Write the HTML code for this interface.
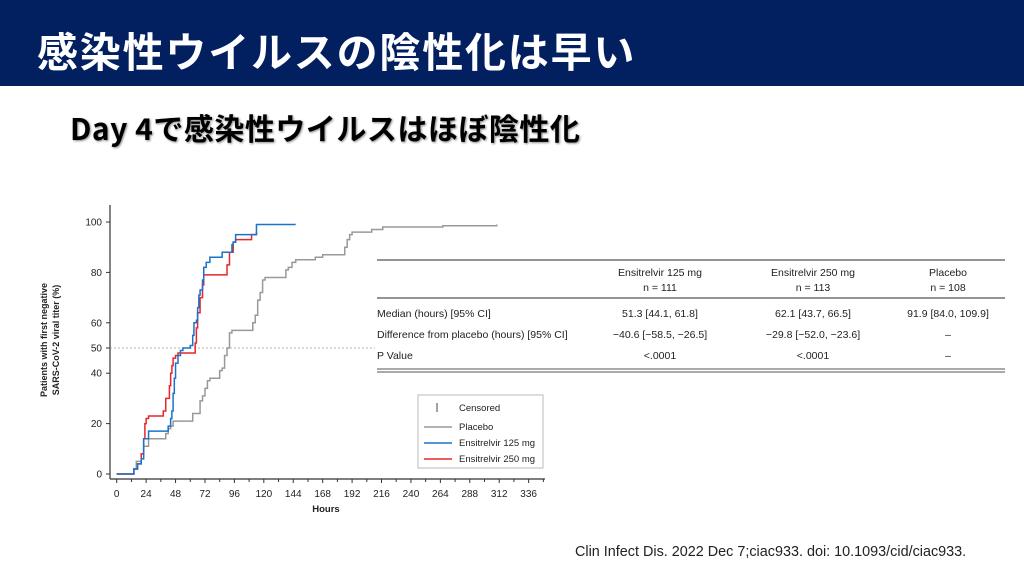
<!DOCTYPE html>
<html><head><meta charset="utf-8">
<style>
body{margin:0;width:1024px;height:576px;background:#fff;position:relative;overflow:hidden;font-family:"Liberation Sans","Noto Sans CJK JP",sans-serif}
.bar{position:absolute;left:0;top:0;width:1024px;height:86px;background:#022060}
.t{position:absolute;left:37px;top:19px;color:#fff;font-weight:bold;font-size:41px;letter-spacing:1.8px;white-space:nowrap;font-family:"Noto Sans CJK JP",sans-serif}
.s{position:absolute;left:70px;top:105px;color:#000;font-weight:bold;font-size:30px;letter-spacing:0.5px;white-space:nowrap;text-shadow:1px 1px 2px #888;font-family:"Noto Sans CJK JP",sans-serif}
.c{position:absolute;left:575px;top:544px;font-size:14.4px;color:#222;white-space:nowrap}
</style></head><body>
<div class="bar"></div>
<div class="t">感染性ウイルスの陰性化は早い</div>
<div class="s">Day 4で感染性ウイルスはほぼ陰性化</div>
<div class="c">Clin Infect Dis. 2022 Dec 7;ciac933. doi: 10.1093/cid/ciac933.</div>
<svg id="g" width="1024" height="576" style="position:absolute;left:0;top:0" font-family="Liberation Sans, sans-serif"></svg>
<script>
const g=document.getElementById('g');
const X=h=>116.7+h*1.226, Y=p=>474-p*2.52;
let s='';
s+='<line x1="110" y1="205" x2="110" y2="479" stroke="#333" stroke-width="1.2"/>';
s+='<line x1="110" y1="479" x2="545" y2="479" stroke="#333" stroke-width="1.2"/>';
[0,20,40,50,60,80,100].forEach(p=>{s+=`<line x1="106" x2="110" y1="${Y(p)}" y2="${Y(p)}" stroke="#333"/><text x="102" y="${Y(p)+3.5}" font-size="10" text-anchor="end" fill="#222">${p}</text>`});
for(let h=0;h<=336;h+=24){s+=`<line x1="${X(h)}" x2="${X(h)}" y1="479" y2="483" stroke="#333"/><text x="${X(h)}" y="497" font-size="10" text-anchor="middle" fill="#222">${h}</text>`}
for(let h=12;h<=348;h+=24){s+=`<line x1="${X(h)}" x2="${X(h)}" y1="479" y2="482" stroke="#333"/>`}
s+='<text x="326" y="512" font-size="9.5" font-weight="bold" text-anchor="middle" fill="#222">Hours</text>';
s+='<text transform="translate(47,340) rotate(-90)" font-size="9" font-weight="bold" text-anchor="middle" fill="#222">Patients with first negative</text>';
s+='<text transform="translate(59,340) rotate(-90)" font-size="9" font-weight="bold" text-anchor="middle" fill="#222">SARS-CoV-2 viral titer (%)</text>';
s+=`<line x1="110" x2="375" y1="${Y(50)}" y2="${Y(50)}" stroke="#999" stroke-dasharray="2,2" stroke-width="0.8"/>`;
function step(pts,col){let d=`M${X(pts[0][0])},${Y(pts[0][1])}`;for(let i=1;i<pts.length;i++){d+=`H${X(pts[i][0])}V${Y(pts[i][1])}`}return `<path d="${d}" fill="none" stroke="${col}" stroke-width="1.5"/>`}
const gray=[[0,0],[12,0],[14,2],[16,5],[20,8],[22,11],[24,11],[26,14],[38,14],[40,16],[42,18],[44,19],[46,21],[60,21],[62,24],[66,24],[68,29],[70,31],[72,34],[74,37],[76,38],[82,38],[84,41],[86,42],[88,47],[90,50],[92,56],[94,57],[110,57],[111,60],[113,63],[115,69],[117,72],[119,77],[121,78],[137,78],[138,81],[140,82],[143,84],[146,85],[160,85],[162,86],[168,87],[184,87],[186,90],[188,93],[190,95],[192,96],[205,96],[208,97],[216,97],[217,98],[265,98],[266,98.5],[310,99]];
const red=[[0,0],[12,0],[14,2],[17,4],[20,8],[22,14],[23,20],[24,22],[26,23],[36,23],[38,25],[40,30],[42,30],[43,35],[44,40],[45,43],[46,46],[48,47],[50,48],[62,48],[64,52],[65,58],[66,64],[68,70],[70,75],[71,79],[72,79],[88,79],[90,83],[92,88],[95,92],[97,93],[110,93],[110,95],[114,96]];
const blue=[[0,0],[12,0],[14,2],[17,4],[20,6],[22,8],[22,14],[24,14],[26,17],[40,17],[42,19],[44,22],[45,25],[46,32],[47,38],[48,44],[50,47],[52,49],[54,50],[60,51],[62,55],[63,60],[65,61],[66,66],[67,71],[68,73],[70,77],[71,82],[73,84],[76,86],[86,86],[86,88],[92,88],[94,91],[95,92],[97,95],[112,95],[114,99],[146,99]];
s+=step(gray,'#999')+step(red,'#e8262a')+step(blue,'#1a73c8');
s+='<rect x="376" y="257" width="630" height="120" fill="#fff"/>';
s+='<line x1="377" x2="1005" y1="260" y2="260" stroke="#555" stroke-width="1.2"/>';
s+='<line x1="377" x2="1005" y1="298" y2="298" stroke="#555" stroke-width="1.2"/>';
s+='<line x1="377" x2="1005" y1="369" y2="369" stroke="#555" stroke-width="1"/>';
s+='<line x1="377" x2="1005" y1="372" y2="372" stroke="#555" stroke-width="1"/>';
const tx=(x,y,t,a)=>`<text x="${x}" y="${y}" font-size="10.5" fill="#222" text-anchor="${a||'middle'}">${t}</text>`;
s+=tx(660,276,'Ensitrelvir 125 mg')+tx(660,291,'n = 111')+tx(813,276,'Ensitrelvir 250 mg')+tx(813,291,'n = 113')+tx(948,276,'Placebo')+tx(948,291,'n = 108');
s+=tx(377,317,'Median (hours) [95% CI]','start')+tx(660,317,'51.3 [44.1, 61.8]')+tx(813,317,'62.1 [43.7, 66.5]')+tx(948,317,'91.9 [84.0, 109.9]');
s+=tx(377,338,'Difference from placebo (hours) [95% CI]','start')+tx(660,338,'−40.6 [−58.5, −26.5]')+tx(813,338,'−29.8 [−52.0, −23.6]')+tx(948,338,'–');
s+=tx(377,359,'P Value','start')+tx(660,359,'&lt;.0001')+tx(813,359,'&lt;.0001')+tx(948,359,'–');
s+='<rect x="418" y="395" width="125" height="73" fill="#fff" stroke="#bbb"/>';
s+='<line x1="437" x2="437" y1="403" y2="412" stroke="#444"/>';
const lg=(y,c,t)=>(c?`<line x1="424" x2="452" y1="${y}" y2="${y}" stroke="${c}" stroke-width="1.5"/>`:'')+`<text x="459" y="${y+3}" font-size="9.5" fill="#222">${t}</text>`;
s+=lg(408,null,'Censored')+lg(427,'#999','Placebo')+lg(443,'#1a73c8','Ensitrelvir 125 mg')+lg(459,'#e8262a','Ensitrelvir 250 mg');
g.innerHTML=s;
</script>
</body></html>
